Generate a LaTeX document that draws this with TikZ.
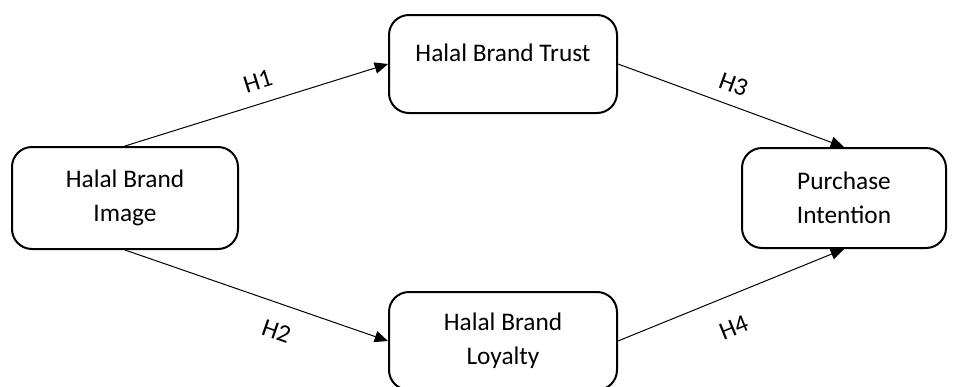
\documentclass[tikz,border=0pt]{standalone}
\usepackage{fontspec}
\setmainfont{Carlito}
\usepackage{tikz}
\usetikzlibrary{arrows.meta,positioning,calc}
\tikzstyle{construct} = [rectangle, rounded corners=15pt, minimum width=171pt, minimum height=73.5pt, text centered, align=center, draw=black, line width=1.5pt, font=\fontsize{19pt}{25.5pt}\selectfont]
\tikzstyle{arrow} = [line width=0.75pt, -{Triangle[length=10pt,width=8.5pt]}]
\tikzstyle{hyp} = [sloped, inner sep=0pt, font=\fontsize{19pt}{23pt}\selectfont]

\begin{document}
\begin{tikzpicture}[x=0.75pt, y=-0.75pt]
\useasboundingbox (0,0) rectangle (954,386);
\clip (0,0) rectangle (954,386);

% Constructs
\node (image) [construct, minimum width=169.5pt, minimum height=76.5pt] at (125,198) {Halal Brand\\Image};
\node (trust) [construct, text depth=17pt] at (503,64) {Halal Brand Trust};
\node (loyalty) [construct] at (503,341) {Halal Brand\\Loyalty};
\node (purchase) [construct, minimum width=153pt, minimum height=75pt] at (844,198) {Purchase\\Intention};

% Hypotheses
\draw [arrow] (image.north) -- node[hyp, pos=0.53, above=10pt] {H1} (trust.west);
\draw [arrow] (image.south) -- node[hyp, pos=0.61, below=14pt] {H2} (loyalty.west);
\draw [arrow] (trust.east) -- node[hyp, pos=0.48, above=9pt] {H3} (purchase.north);
\draw [arrow] (loyalty.east) -- node[hyp, pos=0.46, below=17pt] {H4} (purchase.south);

\end{tikzpicture}
\end{document}
